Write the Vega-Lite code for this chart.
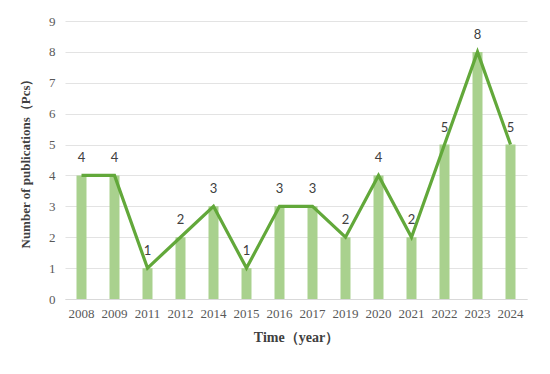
{
  "$schema": "https://vega.github.io/schema/vega-lite/v6.json",
  "autosize": "none",
  "width": 462,
  "height": 278,
  "padding": {"left": 65, "top": 21, "right": 23, "bottom": 75},
  "background": "white",
  "config": {
    "view": {"stroke": null},
    "font": "Liberation Serif"
  },
  "data": {
    "values": [
      {"year": "2008", "count": 4},
      {"year": "2009", "count": 4},
      {"year": "2011", "count": 1},
      {"year": "2012", "count": 2},
      {"year": "2014", "count": 3},
      {"year": "2015", "count": 1},
      {"year": "2016", "count": 3},
      {"year": "2017", "count": 3},
      {"year": "2019", "count": 2},
      {"year": "2020", "count": 4},
      {"year": "2021", "count": 2},
      {"year": "2022", "count": 5},
      {"year": "2023", "count": 8},
      {"year": "2024", "count": 5}
    ]
  },
  "encoding": {
    "x": {
      "field": "year",
      "type": "nominal",
      "sort": null,
      "scale": {"paddingInner": 0.7, "paddingOuter": 0.35},
      "axis": {
        "title": "Time（year）",
        "titleFont": "Liberation Serif",
        "titleFontSize": 14,
        "titleFontWeight": "bold",
        "titleColor": "#404040",
        "titlePadding": 10,
        "labelAngle": 0,
        "labelFontSize": 13,
        "labelColor": "#595959",
        "labelPadding": 8,
        "ticks": false,
        "domainColor": "#d9d9d9",
        "domainWidth": 1
      }
    },
    "y": {
      "field": "count",
      "type": "quantitative",
      "scale": {"domain": [0, 9], "nice": false},
      "axis": {
        "title": "Number of publications（Pcs）",
        "titleFont": "Liberation Serif",
        "titleFontSize": 13,
        "titleFontWeight": "bold",
        "titleColor": "#404040",
        "titlePadding": 16,
        "values": [0, 1, 2, 3, 4, 5, 6, 7, 8, 9],
        "labelOverlap": false,
        "labelFontSize": 13,
        "labelColor": "#595959",
        "labelPadding": 10,
        "ticks": false,
        "domain": false,
        "gridColor": "#e3e3e3",
        "gridWidth": 1
      }
    }
  },
  "layer": [
    {"mark": {"type": "bar", "color": "#a9d18e", "width": 10}},
    {"mark": {"type": "line", "color": "#62a83a", "strokeWidth": 3.2}},
    {
      "mark": {"type": "text", "baseline": "bottom", "dy": -10, "fontSize": 13, "color": "#404040", "font": "Lato"},
      "encoding": {"text": {"field": "count", "type": "quantitative"}}
    }
  ]
}
